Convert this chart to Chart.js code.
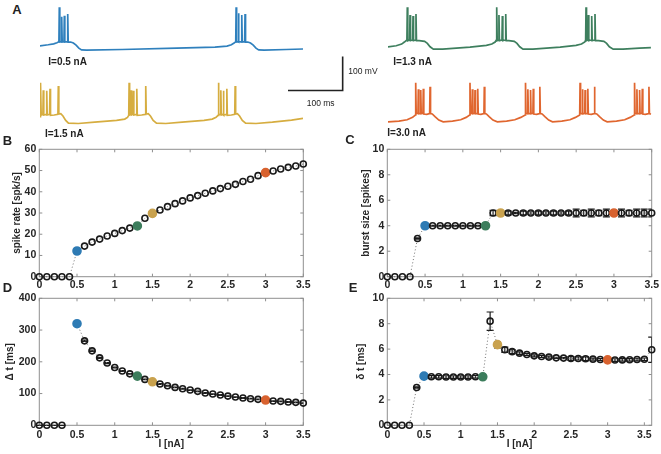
<!DOCTYPE html>
<html><head><meta charset="utf-8">
<script src="https://cdn.jsdelivr.net/npm/chart.js@4.4.1/dist/chart.umd.min.js"></script>
<style>
html,body{margin:0;padding:0;background:#fff;width:661px;height:454px;overflow:hidden;}
body{position:relative;font-family:"Liberation Sans",Arial,Helvetica,sans-serif;}
canvas{position:absolute;}
.t{position:absolute;white-space:nowrap;color:#222;line-height:1;transform:translateY(-50%);}
.pl{font-weight:bold;font-size:13px;transform:translate(-50%,-50%);}
.cur{font-weight:bold;font-size:10px;}
.sb{font-size:8.5px;}
</style></head><body>
<canvas id="trB" width="263" height="60" style="left:40px;top:0px"></canvas>
<canvas id="trG" width="264" height="60" style="left:388px;top:0px"></canvas>
<canvas id="trY" width="263" height="60" style="left:40px;top:75px"></canvas>
<canvas id="trO" width="264" height="60" style="left:388px;top:75px"></canvas>
<canvas id="bar" width="80" height="50" style="left:280px;top:50px"></canvas>
<canvas id="pB" width="320" height="155" style="left:0px;top:140px"></canvas>
<canvas id="pC" width="316" height="155" style="left:345px;top:140px"></canvas>
<canvas id="pD" width="320" height="164" style="left:0px;top:290px"></canvas>
<canvas id="pE" width="316" height="164" style="left:345px;top:290px"></canvas>

<div class="t pl" style="left:17px;top:9px">A</div>
<div class="t pl" style="left:7.5px;top:139.5px">B</div>
<div class="t pl" style="left:350px;top:138.5px">C</div>
<div class="t pl" style="left:7.5px;top:287px">D</div>
<div class="t pl" style="left:353px;top:287px">E</div>
<div class="t cur" style="left:48.3px;top:61.7px">I=0.5 nA</div>
<div class="t cur" style="left:393.3px;top:61.7px">I=1.3 nA</div>
<div class="t cur" style="left:45px;top:134px">I=1.5 nA</div>
<div class="t cur" style="left:387.3px;top:133.3px">I=3.0 nA</div>
<div class="t sb" style="left:348.3px;top:70.7px">100 mV</div>
<div class="t sb" style="left:306.7px;top:102.7px">100 ms</div>

<script>
// ---------- Panel A: membrane potential traces [time ms, voltage mV] ----------
const traceI05 = [[0,-74],[15,-71],[25,-68.5],[31,-65],[34.6,-62],[35.3,39],[36.2,-63],[39,-62],[39.7,11.5],[40.6,-63],[43.8,-62],[44.5,14.4],[45.4,-63],[50,-62],[50.7,19.4],[51.6,-63],[56,-63],[61,-66],[66,-72],[71,-81],[76,-86],[85,-87],[150,-85],[250,-81],[320,-78],[342,-75],[350,-71],[355,-66],[358,-62],[358.7,39],[359.6,-63],[362.3,-62],[363,21.5],[363.9,-63],[368.3,-62],[369,16.5],[369.9,-63],[374.3,-62],[375,19.4],[375.9,-63],[380,-63],[385,-66],[390,-72],[395,-81],[400,-86],[410,-87],[450,-85],[481,-83.5]];
const traceI13 = [[0,-77],[15,-74],[25,-69],[30,-63],[34.6,-57],[35.3,39],[36.2,-59],[39.6,-57],[40.3,16.5],[41.2,-59],[45.1,-57],[45.8,13.5],[46.7,-59],[50.5,-57],[51.2,19.4],[52.1,-59],[57,-59],[67,-61],[72,-67],[77,-77],[83,-84],[100,-84],[150,-78],[180,-73],[190,-69],[196,-63],[198.2,-57],[198.9,39],[199.8,-59],[202.3,-57],[203,16.5],[203.9,-59],[208.5,-57],[209.2,13.5],[210.1,-59],[214.7,-57],[215.4,19.4],[216.3,-59],[221,-59],[231,-61],[236,-67],[241,-77],[247,-84],[265,-84],[315,-78],[344,-73],[354,-69],[360,-63],[361.6,-57],[362.3,39],[363.2,-59],[365.8,-57],[366.5,16.5],[367.4,-59],[372,-57],[372.7,13.5],[373.6,-59],[378,-57],[378.7,19.4],[379.6,-59],[385,-59],[395,-61],[400,-67],[405,-77],[412,-84],[430,-84],[460,-81],[481,-79.5]];
const traceI15 = [[0,-60],[0.6,-56],[1.3,40],[2.2,-55],[5.3,-53],[6,18],[6.9,-55],[11.6,-53],[12.3,16],[13.2,-55],[17.6,-53],[18.3,22],[19.2,-56],[26,-55],[32.8,-53],[33.5,30],[34.4,-52],[38,-51],[42,-58],[47,-71],[52,-79],[70,-80],[100,-76],[140,-71],[155,-67],[160,-62],[162.3,-56],[163,40],[163.9,-55],[165.8,-53],[166.5,18],[167.4,-55],[170,-53],[170.7,16],[171.6,-55],[176.3,-53],[177,22],[177.9,-56],[186,-55],[192.7,-53],[193.4,30],[194.3,-52],[198,-51],[202,-58],[207,-71],[213,-79],[230,-80],[260,-76],[300,-71],[315,-67],[322,-62],[325.6,-56],[326.3,40],[327.2,-55],[330,-53],[330.7,18],[331.6,-55],[334.7,-53],[335.4,16],[336.3,-55],[341,-53],[341.7,22],[342.6,-56],[350,-55],[356.2,-53],[356.9,30],[357.8,-52],[361,-51],[365,-58],[370,-71],[376,-79],[395,-80],[425,-76],[460,-70],[481,-65]];
const traceI30 = [[0,-75],[20,-73],[35,-69],[45,-62],[50,-55],[50.7,40],[51.6,-51],[54.8,-50],[55.5,20.6],[56.4,-51],[59.2,-50],[59.9,18.5],[60.8,-51],[63.9,-50],[64.6,22.4],[65.5,-52],[71,-53],[76.2,-51],[76.9,28.2],[77.8,-51],[81,-52],[86,-60],[93,-70],[101,-75],[118,-73],[133,-69],[143,-62],[149.3,-55],[150,40],[150.9,-51],[153.6,-50],[154.3,20.6],[155.2,-51],[158.5,-50],[159.2,18.5],[160.1,-51],[163.5,-50],[164.2,22.4],[165.1,-52],[170,-53],[175.5,-51],[176.2,28.2],[177.1,-51],[180,-52],[185,-60],[192,-70],[200,-75],[217,-73],[232,-69],[243,-62],[250.9,-55],[251.6,40],[252.5,-51],[255.2,-50],[255.9,20.6],[256.8,-51],[260.1,-50],[260.8,18.5],[261.7,-51],[265.1,-50],[265.8,22.4],[266.7,-52],[272,-53],[277.1,-51],[277.8,28.2],[278.7,-51],[282,-52],[287,-60],[294,-70],[301,-75],[318,-73],[333,-69],[343,-62],[350.7,-55],[351.4,40],[352.3,-51],[355,-50],[355.7,20.6],[356.6,-51],[359.9,-50],[360.6,18.5],[361.5,-51],[364.9,-50],[365.6,22.4],[366.5,-52],[372,-53],[377,-51],[377.7,28.2],[378.6,-51],[382,-52],[387,-60],[394,-70],[401,-75],[418,-73],[433,-69],[443,-62],[450.4,-55],[451.1,40],[452,-51],[454.7,-50],[455.4,20.6],[456.3,-51],[459.6,-50],[460.3,18.5],[461.2,-51],[464.6,-50],[465.3,22.4],[466.2,-52],[471,-53],[476.7,-51],[477.4,28.2],[478.3,-51],[481,-53]];
const scaleBarMs = 100;
const scaleBarMv = 100;

// ---------- Panels B-E ----------
const currentNA = [0,0.1,0.2,0.3,0.4,0.5,0.6,0.7,0.8,0.9,1.0,1.1,1.2,1.3,1.4,1.5,1.6,1.7,1.8,1.9,2.0,2.1,2.2,2.3,2.4,2.5,2.6,2.7,2.8,2.9,3.0,3.1,3.2,3.3,3.4,3.5];
const currentE  = [0,0.1,0.2,0.3,0.4,0.5,0.6,0.7,0.8,0.9,1.0,1.1,1.2,1.3,1.4,1.5,1.6,1.7,1.8,1.9,2.0,2.1,2.2,2.3,2.4,2.5,2.6,2.7,2.8,2.9,3.0,3.1,3.2,3.3,3.4,3.5,3.6];
const spikeRate = [0,0,0,0,0,12.1,14.4,16.3,17.7,19.2,20.4,21.7,22.9,23.9,27.5,29.8,31.4,33.0,34.4,35.7,37.1,38.2,39.3,40.4,41.5,42.6,43.5,44.8,45.9,47.6,49.0,49.8,50.7,51.5,52.1,53.1];
const burstSize = [0,0,0,0,3,4,4,4,4,4,4,4,4,4,5,5,5,5,5,5,5,5,5,5,5,5,5,5,5,5,5,5,5,5,5,5];
const burstSizeErr = [null,null,null,null,0.05,0.03,0.03,0.03,0.03,0.03,0.03,0.03,0.03,0.03,0.2,0.05,0.15,0.05,0.15,0.1,0.15,0.1,0.15,0.1,0.15,0.3,0.2,0.3,0.2,0.3,0.05,0.3,0.2,0.3,0.3,0.3];
const burstPeriod = [0,0,0,0,null,320,266,234.5,212.5,196,182,171,162,155,144.5,137,130,124.6,119.4,115,111,107,101.6,98.4,95.3,92,89,86,83.8,81.7,79.6,76.4,75.4,73.3,72.3,70];
const burstPeriodErr = [0,0,0,0,null,1,2,2,1.5,1.5,1,1,1,1,1,1,1,1,1,1,1,1,1,1,1,1,1,1,1,1,1,1,1,1,1,1];
const isi = [0,0,0,0,2.98,3.87,3.82,3.82,3.8,3.8,3.8,3.8,3.82,3.82,8.2,6.35,5.95,5.8,5.68,5.58,5.47,5.42,5.37,5.31,5.29,5.26,5.26,5.24,5.21,5.18,5.15,5.14,5.15,5.16,5.18,5.2,5.95];
const isiErr = [null,null,null,null,0.05,0.08,0.1,0.1,0.1,0.1,0.1,0.1,0.1,0.05,0.72,0.25,0.2,0.15,0.1,0.08,0.08,0.08,0.08,0.05,0.05,0.15,0.12,0.15,0.08,0.08,0.05,0.1,0.1,0.1,0.1,0.1,1.0];

const highlightI = [0.5, 1.3, 1.5, 3.0];
const highlightColors = ['#2e7bb4', '#3c7d5c', '#c9a24e', '#d8622f'];
const traceColors = ['#2f80bd', '#3e7f5e', '#d6ad40', '#e0662f'];

Chart.defaults.font.family = '"Liberation Sans", Arial, Helvetica, sans-serif';

function traceChart(id, pts, color, xmax, ymin, ymax) {
  new Chart(document.getElementById(id), {
    type: 'scatter',
    data: { datasets: [{ data: pts.map(p => ({x: p[0], y: p[1]})), showLine: true,
      borderColor: color, borderWidth: 1.7, pointRadius: 0, tension: 0, clip: false }] },
    options: { responsive: false, animation: false, events: [], layout: { padding: 0 },
      plugins: { legend: { display: false }, tooltip: { enabled: false } },
      scales: { x: { type: 'linear', display: false, min: 0, max: xmax },
                y: { type: 'linear', display: false, min: ymin, max: ymax } } }
  });
}
traceChart('trB', traceI05, traceColors[0], 481, -115.8, 60.6);
traceChart('trG', traceI13, traceColors[1], 483, -115.8, 60.6);
traceChart('trY', traceI15, traceColors[2], 481, -113.8, 62.6);
traceChart('trO', traceI30, traceColors[3], 483, -113.8, 62.6);

// scale bar
new Chart(document.getElementById('bar'), {
  type: 'scatter',
  data: { datasets: [{ data: [{x: 0, y: 0}, {x: scaleBarMs, y: 0}, {x: scaleBarMs, y: scaleBarMv}],
    showLine: true, borderColor: '#222', borderWidth: 1.6, pointRadius: 0, clip: false }] },
  options: { responsive: false, animation: false, events: [], layout: { padding: 0 },
    plugins: { legend: { display: false }, tooltip: { enabled: false } },
    scales: { x: { type: 'linear', display: false, min: -14.6, max: 131.7 },
              y: { type: 'linear', display: false, min: -27.9, max: 119.1 } } }
});

const boxPlugin = {
  id: 'matBox',
  beforeDatasetsDraw(chart, args, opts) {
    const {ctx, chartArea: a} = chart;
    const xs = chart.scales.x, ys = chart.scales.y;
    ctx.save();
    ctx.strokeStyle = '#8f8f8f'; ctx.lineWidth = 1;
    ctx.strokeRect(a.left, a.top, a.right - a.left, a.bottom - a.top);
    ctx.beginPath();
    xs.ticks.forEach(t => { const p = xs.getPixelForValue(t.value);
      ctx.moveTo(p, a.bottom); ctx.lineTo(p, a.bottom - 3); ctx.moveTo(p, a.top); ctx.lineTo(p, a.top + 3); });
    ys.ticks.forEach(t => { const p = ys.getPixelForValue(t.value);
      ctx.moveTo(a.left, p); ctx.lineTo(a.left + 3, p); ctx.moveTo(a.right, p); ctx.lineTo(a.right - 3, p); });
    ctx.stroke();
    ctx.restore();
  }
};
const errPlugin = {
  id: 'errBars',
  beforeDatasetsDraw(chart, args, opts) {
    const errs = opts.errors; if (!errs) return;
    const {ctx, chartArea: a} = chart;
    const xs = chart.scales.x, ys = chart.scales.y;
    const pts = chart.data.datasets[0].data;
    ctx.save();
    ctx.beginPath(); ctx.rect(a.left - 20, a.top - 20, a.right - a.left + 20, a.bottom - a.top + 40); ctx.clip();
    ctx.strokeStyle = '#1a1a1a'; ctx.lineWidth = 1.2;
    ctx.beginPath();
    pts.forEach((p, i) => {
      const e = errs[i]; if (e === null || e === undefined || p.y === null) return;
      const px = xs.getPixelForValue(p.x), y1 = ys.getPixelForValue(p.y - e), y2 = ys.getPixelForValue(p.y + e);
      ctx.moveTo(px, y1); ctx.lineTo(px, y2);
      ctx.moveTo(px - 3.5, y1); ctx.lineTo(px + 3.5, y1);
      ctx.moveTo(px - 3.5, y2); ctx.lineTo(px + 3.5, y2);
    });
    ctx.stroke();
    ctx.restore();
  }
};

function hlIndex(x) { return highlightI.findIndex(h => Math.abs(h - x) < 1e-6); }

function panel(c) {
  const pts = c.x.map((x, i) => ({x: x, y: c.y[i]}));
  const bg = c.x.map(x => { const k = hlIndex(x); return k >= 0 ? highlightColors[k] : 'rgba(0,0,0,0)'; });
  const bd = c.x.map(x => { const k = hlIndex(x); return k >= 0 ? highlightColors[k] : '#1a1a1a'; });
  const rad = c.x.map(x => hlIndex(x) >= 0 ? 4 : 3);
  const tickFont = { size: 10.5, weight: 'bold' };
  const titleFont = { size: 10, weight: 'bold' };
  new Chart(document.getElementById(c.id), {
    type: 'scatter',
    data: { datasets: [{ data: pts, showLine: true, spanGaps: false,
      borderColor: '#6f6f6f', borderWidth: 1, borderDash: [1, 2.3],
      pointBackgroundColor: bg, pointBorderColor: bd, pointBorderWidth: 1.6, pointRadius: rad, clip: false }] },
    plugins: [boxPlugin, errPlugin],
    options: { responsive: false, animation: false, events: [],
      layout: { padding: { top: c.padTop, right: c.padRight, bottom: 0, left: 0 } },
      plugins: { legend: { display: false }, tooltip: { enabled: false },
        errBars: { errors: c.err || null } },
      scales: {
        x: { type: 'linear', min: 0, max: c.xmax,
          grid: { display: false, drawTicks: false, tickLength: 0 }, border: { display: false },
          ticks: { stepSize: 0.5, includeBounds: false, autoSkip: false, maxRotation: 0, padding: c.xPad,
            color: '#262626', font: tickFont, callback: v => String(+v.toFixed(2)) },
          title: { display: !!c.xtitle, text: c.xtitle || '', color: '#262626', font: titleFont, padding: { top: 0, bottom: 3.7 } },
          afterFit: s => { s.height = c.xh; s.paddingLeft = 0; s.paddingRight = 0; } },
        y: { type: 'linear', min: c.ymin, max: c.ymax,
          grid: { display: false, drawTicks: false, tickLength: 0 }, border: { display: false },
          ticks: { stepSize: c.ystep, includeBounds: false, padding: 3, color: '#262626', font: tickFont,
            callback: v => String(+v.toFixed(2)) },
          title: { display: true, text: c.ytitle, color: '#262626', font: titleFont, padding: { top: c.ytPad, bottom: 0 } },
          afterFit: s => { s.width = c.yw; s.paddingTop = 0; s.paddingBottom = 0; } }
      } }
  });
}

panel({ id: 'pB', x: currentNA, y: spikeRate, err: null, xmax: 3.5, ymin: 0, ymax: 60, ystep: 10,
  ytitle: 'spike rate [spk/s]', padTop: 9.3, padRight: 16.7, yw: 39.3, xh: 18.3, xPad: 2, ytPad: 11.3 });
panel({ id: 'pC', x: currentNA, y: burstSize, err: burstSizeErr, xmax: 3.5, ymin: 0, ymax: 10, ystep: 2,
  ytitle: 'burst size [spikes]', padTop: 9.3, padRight: 9.3, yw: 42.3, xh: 18.3, xPad: 2, ytPad: 14.8 });
panel({ id: 'pD', x: currentNA, y: burstPeriod, err: burstPeriodErr, xmax: 3.5, ymin: 0, ymax: 400, ystep: 100,
  ytitle: 'Δ t [ms]', xtitle: 'I [nA]', padTop: 8.3, padRight: 16.7, yw: 39.3, xh: 28.7, xPad: 3.4, ytPad: 4.6 });
panel({ id: 'pE', x: currentE, y: isi, err: isiErr, xmax: 3.6, ymin: 0, ymax: 10, ystep: 2,
  ytitle: 'δ t [ms]', xtitle: 'I [nA]', padTop: 8.3, padRight: 9.3, yw: 42.3, xh: 28.7, xPad: 3.4, ytPad: 10.3 });
</script>
</body></html>
